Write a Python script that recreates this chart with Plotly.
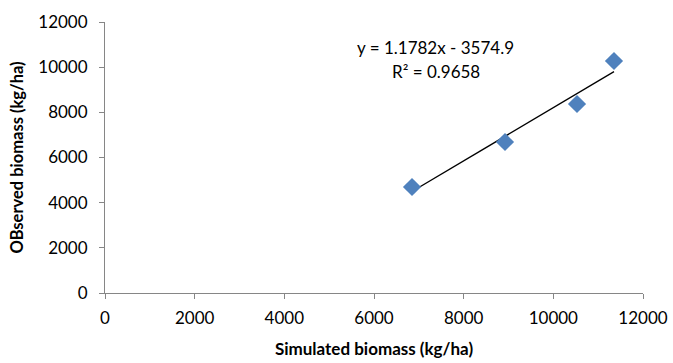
import numpy as np
import plotly.graph_objects as go

simulated = [6848, 8922, 10528, 11353]
observed = [4694, 6686, 8369, 10273]
slope = 1.1782
intercept = -3574.9
equation_text = "y = 1.1782x - 3574.9"
r2_text = "R² = 0.9658"
tick_vals = [0, 2000, 4000, 6000, 8000, 10000, 12000]
tick_text = ["0", "2000", "4000", "6000", "8000", "10000", "12000"]

fx = np.array([min(simulated), max(simulated)])
fy = slope * fx + intercept

font = "Lato, 'Open Sans', sans-serif"

fig = go.Figure()
fig.add_trace(go.Scatter(x=fx, y=fy, mode="lines",
                         line=dict(color="black", width=1.3), showlegend=False))
fig.add_trace(go.Scatter(x=simulated, y=observed, mode="markers",
                         marker=dict(symbol="diamond", size=14, color="#4F81BD",
                                     line=dict(width=0)), showlegend=False))

fig.add_annotation(x=7380, y=10893, text=equation_text, showarrow=False,
                   font=dict(family=font, size=17, color="black"), xanchor="center", yanchor="middle")
fig.add_annotation(x=7380, y=9830, text=r2_text, showarrow=False,
                   font=dict(family=font, size=17, color="black"), xanchor="center", yanchor="middle")

axis_common = dict(showgrid=False, zeroline=False, showline=True, linecolor="#868686",
                   linewidth=1, ticks="outside", ticklen=5, tickcolor="#868686",
                   tickvals=tick_vals, ticktext=tick_text, automargin=False,
                   tickfont=dict(family=font, size=17, color="black"))

fig.update_xaxes(range=[0, 12000], ticklabelstandoff=5,
                 title=dict(text="<b>Simulated biomass (kg/ha)</b>",
                            font=dict(family=font, size=17, color="black"), standoff=15),
                 **axis_common)
fig.update_yaxes(range=[0, 12000], ticklabelstandoff=8,
                 title=dict(text="<b>OBserved biomass (kg/ha)</b>",
                            font=dict(family=font, size=16.5, color="black"), standoff=10),
                 **axis_common)

fig.update_layout(width=673, height=363, margin=dict(l=105, r=30, t=22, b=70),
                  plot_bgcolor="white", paper_bgcolor="white")

fig.write_html("out.html")
